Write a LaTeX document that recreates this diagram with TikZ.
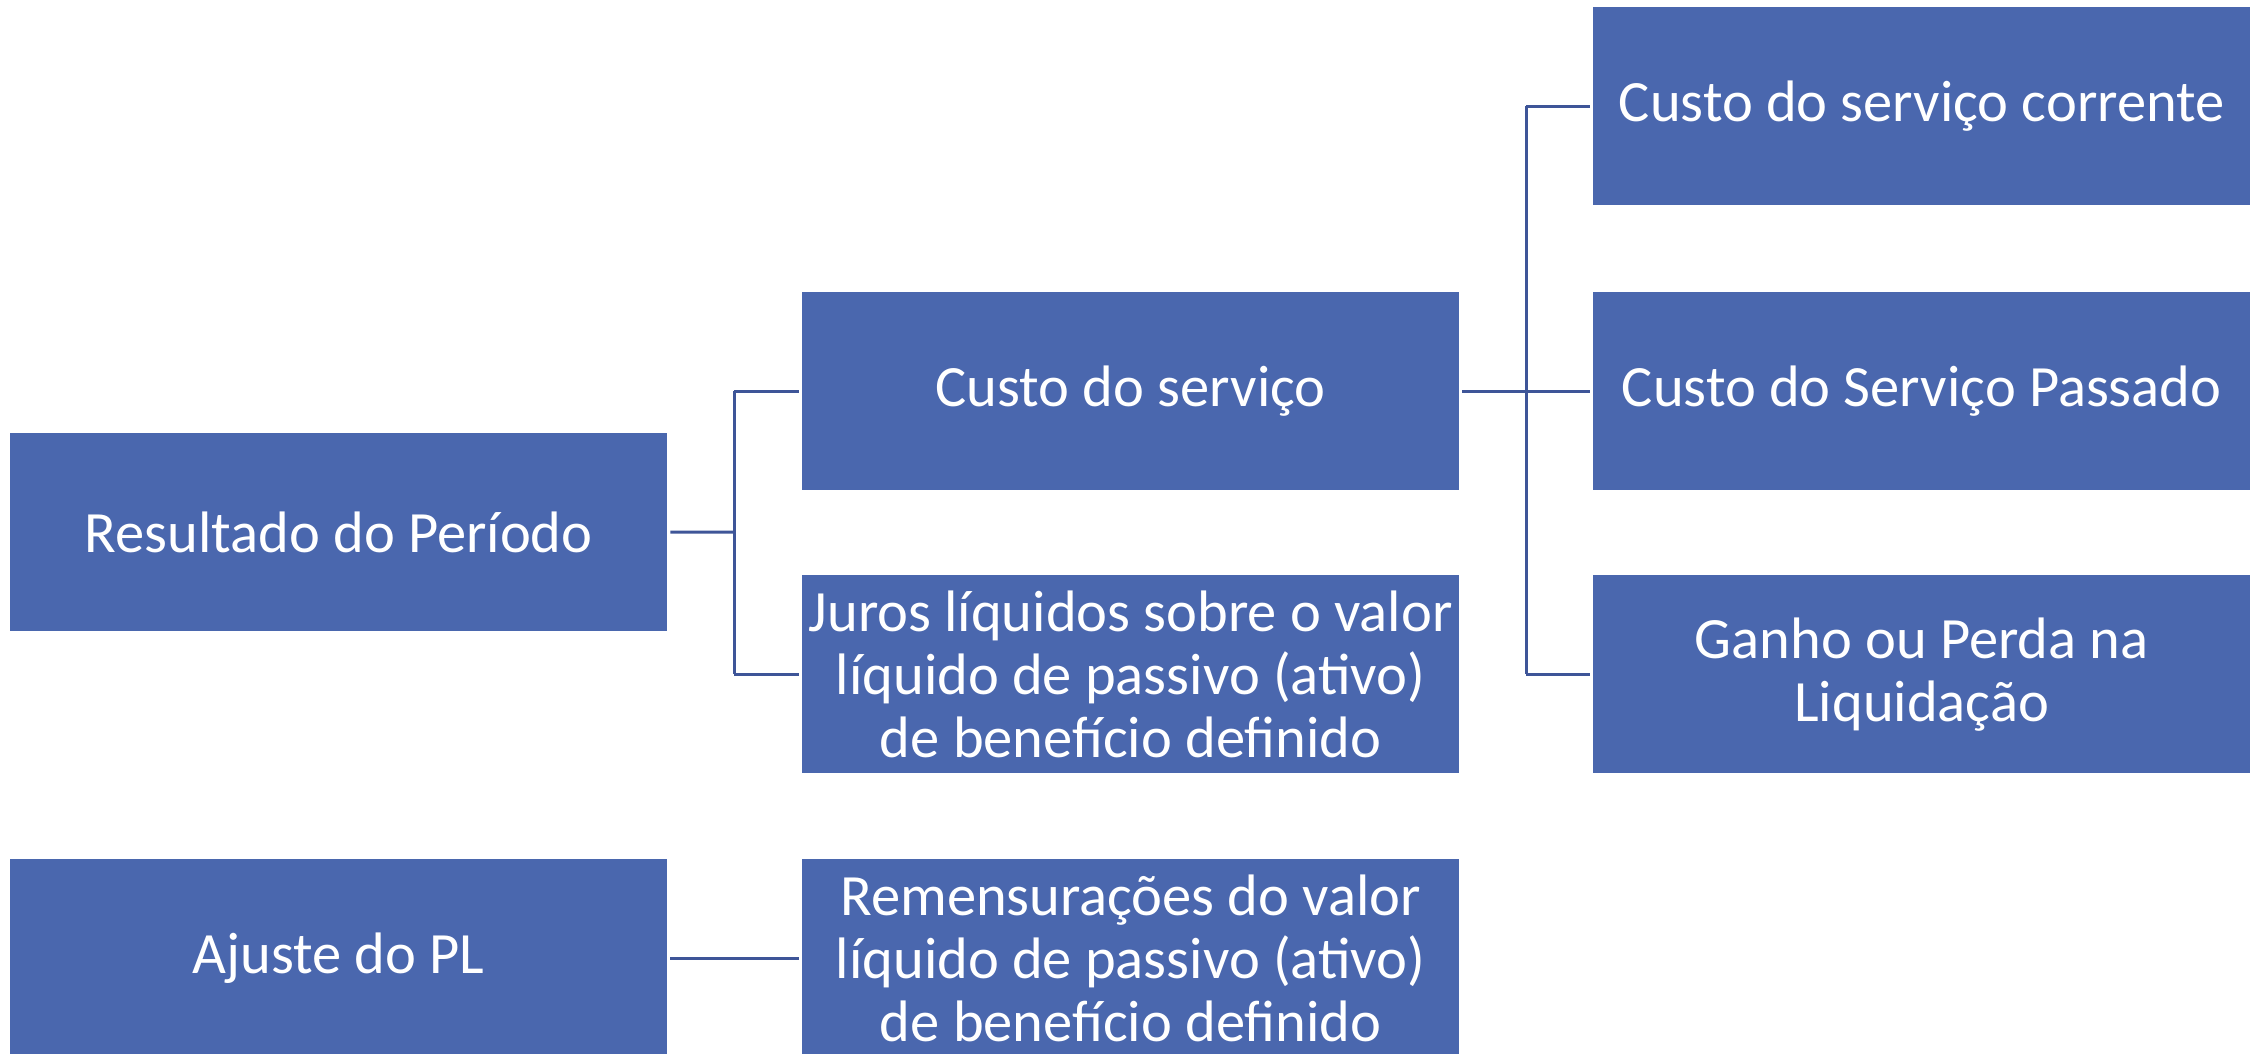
\documentclass[tikz,border=0pt]{standalone}
\usepackage{fontspec}
\setmainfont{Carlito}
\definecolor{boxblue}{HTML}{4A67AE}
\definecolor{lineblue}{HTML}{3E5598}
\begin{document}
\begin{tikzpicture}[x=1pt,y=-1pt,
  box/.style={fill=boxblue, draw=none, text=white, minimum width=657pt, minimum height=198pt,
    inner sep=0pt, align=center, font=\fontsize{58.5}{63}\selectfont, anchor=north west},
  conn/.style={draw=lineblue, line width=3pt}]
\useasboundingbox (0,0) rectangle (2257,1054);
\fill[white] (0,0) rectangle (2257,1054);
\node[box] (res) at (10,433) {Resultado do Período};
\node[box] (cs) at (802,292) {Custo do serviço};
\node[box] (jur) at (802,575) {Juros líquidos sobre o valor\\líquido de passivo (ativo)\\de benefício definido};
\node[box] (csc) at (1593,7) {Custo do serviço corrente};
\node[box] (csp) at (1593,292) {Custo do Serviço Passado};
\node[box] (gan) at (1593,575) {Ganho ou Perda na\\Liquidação};
\node[box, minimum height=198pt] (aj) at (10,859) {Ajuste do PL};
\node[box, minimum height=198pt] (rem) at (802,859) {Remensurações do valor\\líquido de passivo (ativo)\\de benefício definido};
% connectors
\coordinate (j1) at (734,532);
\coordinate (j2) at (1526,390);
\draw[conn] ([xshift=3pt]res.east) -- (j1);
\draw[conn] (j1 |- cs.west) -- ([xshift=-3pt]cs.west);
\draw[conn] (j1 |- jur.west) -- ([xshift=-3pt]jur.west);
\draw[conn] (j1 |- cs.west) -- (j1 |- jur.west);
\draw[conn] ([xshift=3pt]cs.east) -- ([xshift=-3pt]csp.west);
\draw[conn] (j2 |- csc.west) -- ([xshift=-3pt]csc.west);
\draw[conn] (j2 |- gan.west) -- ([xshift=-3pt]gan.west);
\draw[conn] (j2 |- csc.west) -- (j2 |- gan.west);
\draw[conn] ([xshift=3pt]aj.east |- 0,958) -- ([xshift=-3pt]rem.west |- 0,958);
\end{tikzpicture}
\end{document}
